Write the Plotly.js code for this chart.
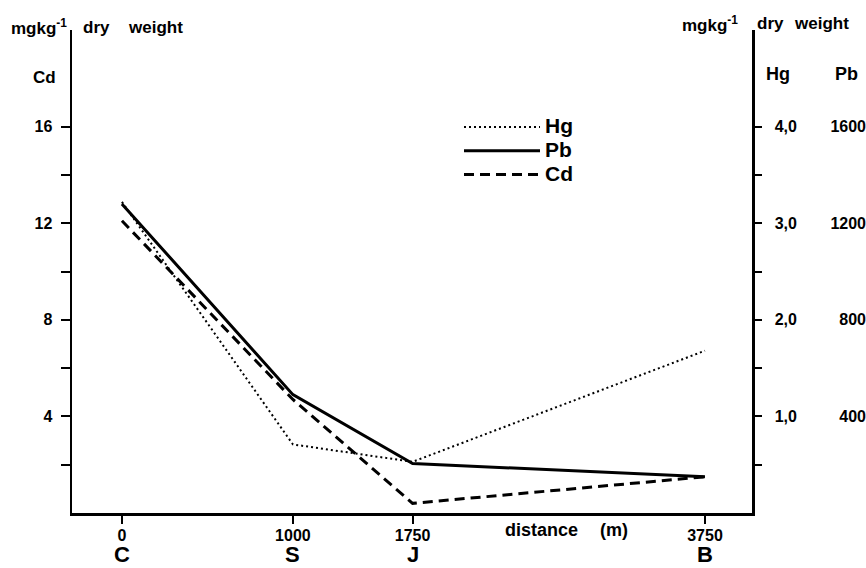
<!DOCTYPE html>
<html>
<head>
<meta charset="utf-8">
<script src="https://cdn.plot.ly/plotly-3.0.1.min.js"></script>
<style>html,body{margin:0;padding:0;background:#fff;}#chart{width:866px;height:568px;}</style>
</head>
<body>
<div id="chart"></div>
<script>
// ---- data ----
var stations = ['C', 'S', 'J', 'B'];
var distanceLabels = ['0', '1000', '1750', '3750'];
// positions of the stations along the (not-to-scale) distance axis of the figure
var stationPos = [0, 1, 1.7, 3.41];
var hg = [3.22, 0.71, 0.53, 1.68];   // mg/kg dry weight (right axis)
var pb = [1280, 490, 205, 150];      // mg/kg dry weight (right axis)
var cd = [12.1, 4.7, 0.4, 1.5];      // mg/kg dry weight (left axis)
var seriesNames = ['Hg', 'Pb', 'Cd'];
var cdTicks = [4, 8, 12, 16];
var cdTickText = ['4', '8', '12', '16'];
var cdMinor = [2, 6, 10, 14];
var hgTicks = [1, 2, 3, 4];
var hgTickText = ['1,0', '2,0', '3,0', '4,0'];
var hgMinor = [0.5, 1.5, 2.5, 3.5];
var pbTicks = [400, 800, 1200, 1600];
var pbTickText = ['400', '800', '1200', '1600'];

// ---- layout helpers ----
var W = 866, H = 568, ML = 72, MR = 0, MT = 30, MB = 55;
var PW = W - ML - MR, PH = H - MT - MB;
function px(x) { return (x - ML) / PW; }
function py(y) { return (H - MB - y) / PH; }

var F = 'Liberation Sans, Arial, sans-serif';
var fontB = function (s) { return {family: F, size: s, color: '#000', weight: 'bold'}; };
function legName(n) { return '<span style="font-size:21px">' + n + '</span>'; }

var traces = [
  {x: stationPos, y: hg, name: legName(seriesNames[0]), yaxis: 'y2', mode: 'lines',
   line: {color: '#000', width: 2, dash: '2px,3px'}},
  {x: stationPos, y: pb, name: legName(seriesNames[1]), yaxis: 'y3', mode: 'lines',
   line: {color: '#000', width: 3}},
  {x: stationPos, y: cd, name: legName(seriesNames[2]), yaxis: 'y', mode: 'lines',
   line: {color: '#000', width: 3, dash: '10px,6px'}}
];

function ann(text, x, y, size, anchor) {
  return {text: text, x: px(x), y: py(y), xref: 'paper', yref: 'paper', showarrow: false,
    xanchor: anchor || 'left', yanchor: 'middle', font: fontB(size), borderpad: 0};
}
var annotations = [
  ann('mgkg<sup>-1</sup>', 10, 27, 17),
  ann('dry', 82, 27, 17),
  ann('weight', 127, 27, 17),
  ann('Cd', 44, 78, 17, 'center'),
  ann('mgkg<sup>-1</sup>', 681, 24, 17),
  ann('dry', 756, 24, 17),
  ann('weight', 793, 24, 17),
  ann('Hg', 778, 74, 18, 'center'),
  ann('Pb', 846, 74, 18, 'center'),
  ann('distance', 504, 530, 18),
  ann('(m)', 599, 530, 18)
];
stations.forEach(function (s, i) {
  annotations.push({text: s, x: stationPos[i], xref: 'x', y: py(554.5), yref: 'paper',
    xanchor: 'center', yanchor: 'middle', showarrow: false, borderpad: 0, font: fontB(22)});
});

var layout = {
  width: W, height: H,
  margin: {l: ML, r: MR, t: MT, b: MB, pad: 0},
  paper_bgcolor: '#fff', plot_bgcolor: '#fff',
  font: {family: F, size: 15, color: '#000'},
  showlegend: true,
  legend: {x: px(459), y: py(110), xanchor: 'left', yanchor: 'top', bgcolor: 'rgba(0,0,0,0)',
    font: fontB(16), itemwidth: 76, tracegroupgap: 0},
  xaxis: {domain: [0, (752 - ML) / PW], range: [-0.292, 3.685], showgrid: false, zeroline: false,
    showline: true, linecolor: '#000', linewidth: 2.5, ticks: 'outside', ticklen: 8, tickwidth: 2, tickcolor: '#000',
    tickvals: stationPos, ticktext: distanceLabels, tickfont: fontB(16), ticklabelstandoff: -2, fixedrange: true},
  yaxis: {range: [0, 20], showgrid: false, zeroline: false, showline: true, linecolor: '#000', linewidth: 2.5,
    ticks: 'outside', ticklen: 9, tickwidth: 2, tickcolor: '#000', tickvals: cdTicks, ticktext: cdTickText,
    tickfont: fontB(16), ticklabelstandoff: 5,
    minor: {tickmode: 'array', tickvals: cdMinor, ticks: 'outside', ticklen: 9, tickwidth: 2, tickcolor: '#000', showgrid: false}},
  yaxis2: {range: [0, 5], overlaying: 'y', side: 'right', anchor: 'x', showgrid: false, zeroline: false,
    showline: true, linecolor: '#000', linewidth: 2.5, ticks: 'outside', ticklen: 7, tickwidth: 2, tickcolor: '#000',
    tickvals: hgTicks, ticktext: hgTickText, tickfont: fontB(16), ticklabelstandoff: 10,
    minor: {tickmode: 'array', tickvals: hgMinor, ticks: 'outside', ticklen: 7, tickwidth: 2, tickcolor: '#000', showgrid: false}},
  yaxis3: {range: [0, 2000], overlaying: 'y', side: 'left', anchor: 'free', position: 1, showgrid: false,
    zeroline: false, showline: false, ticks: '', tickvals: pbTicks, ticktext: pbTickText, tickfont: fontB(16)},
  annotations: annotations
};

Plotly.newPlot('chart', traces, layout, {staticPlot: true});
</script>
</body>
</html>
